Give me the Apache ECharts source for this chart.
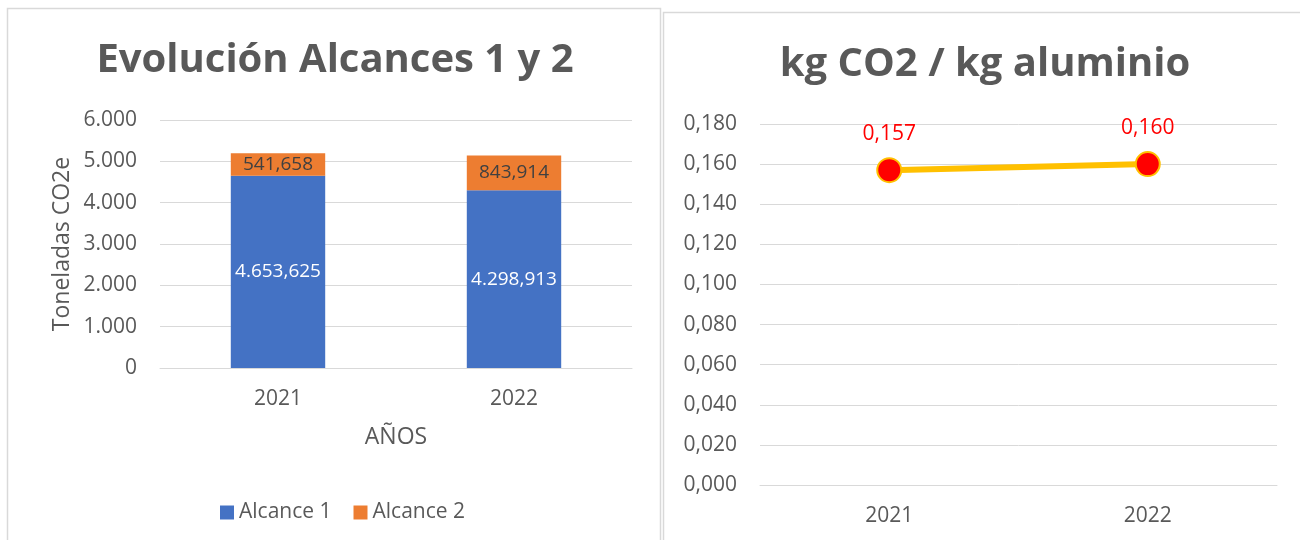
<!DOCTYPE html>
<html>
<head>
<meta charset="utf-8">
<script src="https://cdn.jsdelivr.net/npm/echarts@6/dist/echarts.min.js"></script>
<style>
html,body{margin:0;padding:0;background:#fff;}
#c{width:1300px;height:540px;}
</style>
</head>
<body>
<div id="c"></div>
<script>
var years = ['2021', '2022'];
var alcance1 = [4653.625, 4298.913];
var alcance2 = [541.658, 843.914];
var ratioYears = ['2021', '2022'];
var ratio = [0.157, 0.160];

var FONT = '"Open Sans", "Noto Sans", sans-serif';
var GREY = '#595959';

function fmtES(v, dec) {
  var s = v.toFixed(dec);
  var parts = s.split('.');
  var ip = parts[0].replace(/\B(?=(\d{3})+(?!\d))/g, '.');
  return parts.length > 1 ? ip + ',' + parts[1] : ip;
}

var chart = echarts.init(document.getElementById('c'), null, {renderer: 'canvas'});
chart.setOption({
  animation: false,
  backgroundColor: '#fff',
  textStyle: {fontFamily: FONT},
  graphic: [
    {type: 'rect', shape: {x: 7.5, y: 8.5, width: 653, height: 560}, style: {fill: 'none', stroke: '#d9d9d9', lineWidth: 1.5}, silent: true},
    {type: 'rect', shape: {x: 663.5, y: 12.5, width: 660, height: 560}, style: {fill: 'none', stroke: '#d9d9d9', lineWidth: 1.5}, silent: true}
  ],
  title: [
    {text: 'Evolución Alcances 1 y 2', left: 330, top: 36, textAlign: 'center',
     textStyle: {fontFamily: FONT, fontSize: 40, fontWeight: 'bold', color: GREY}},
    {text: 'kg CO2 / kg aluminio', left: 980, top: 40, textAlign: 'center',
     textStyle: {fontFamily: FONT, fontSize: 40, fontWeight: 'bold', color: GREY}}
  ],
  legend: {
    data: ['Alcance 1', 'Alcance 2'],
    left: 215, top: 497,
    itemWidth: 14, itemHeight: 14, itemGap: 22,
    icon: 'rect',
    textStyle: {fontFamily: FONT, fontSize: 21, color: GREY}
  },
  grid: [
    {left: 160, top: 120, width: 472, height: 248},
    {left: 760, top: 124, width: 517, height: 361}
  ],
  xAxis: [
    {type: 'category', gridIndex: 0, data: years,
     axisLine: {show: true, lineStyle: {color: '#d9d9d9'}}, axisTick: {show: false},
     axisLabel: {color: GREY, fontSize: 21, margin: 21, fontFamily: FONT},
     name: 'AÑOS', nameLocation: 'middle', nameGap: 58,
     nameTextStyle: {color: GREY, fontSize: 23, fontFamily: FONT}},
    {type: 'category', gridIndex: 1, data: ratioYears,
     axisLine: {show: true, lineStyle: {color: '#d9d9d9'}}, axisTick: {show: false},
     axisLabel: {color: GREY, fontSize: 21, margin: 21, fontFamily: FONT}}
  ],
  yAxis: [
    {type: 'value', gridIndex: 0, min: 0, max: 6000, interval: 1000,
     axisLine: {show: false}, axisTick: {show: false},
     splitLine: {lineStyle: {color: '#d9d9d9', width: 1}},
     axisLabel: {color: GREY, fontSize: 21, margin: 23, fontFamily: FONT,
       formatter: function (v) { return fmtES(v, 0); }},
     name: 'Toneladas CO2e', nameLocation: 'middle', nameGap: 86, nameRotate: 90,
     nameTextStyle: {color: GREY, fontSize: 23, fontFamily: FONT}},
    {type: 'value', gridIndex: 1, min: 0, max: 0.18, interval: 0.02,
     axisLine: {show: false}, axisTick: {show: false},
     splitLine: {lineStyle: {color: '#d9d9d9', width: 1}},
     axisLabel: {color: GREY, fontSize: 21, margin: 23, fontFamily: FONT,
       formatter: function (v) { return fmtES(v, 3); }}}
  ],
  series: [
    {name: 'Alcance 1', type: 'bar', stack: 'a', xAxisIndex: 0, yAxisIndex: 0,
     data: alcance1, barWidth: '40%',
     itemStyle: {color: '#4472C4'},
     label: {show: true, position: 'inside', color: '#fff', fontSize: 19, fontFamily: FONT,
       formatter: function (p) { return fmtES(p.value, 3); }}},
    {name: 'Alcance 2', type: 'bar', stack: 'a', xAxisIndex: 0, yAxisIndex: 0,
     data: alcance2, barWidth: '40%',
     itemStyle: {color: '#ED7D31'},
     label: {show: true, position: 'inside', color: '#404040', fontSize: 19, fontFamily: FONT,
       formatter: function (p) { return fmtES(p.value, 3); }}},
    {name: 'ratio', type: 'line', xAxisIndex: 1, yAxisIndex: 1,
     data: ratio,
     lineStyle: {color: '#FFC000', width: 6},
     symbol: 'circle', symbolSize: 24,
     itemStyle: {color: '#FF0000', borderColor: '#FFC000', borderWidth: 2},
     label: {show: true, position: 'top', distance: 13, color: '#FF0000', fontSize: 21, fontFamily: FONT,
       formatter: function (p) { return fmtES(p.value, 3); }}}
  ]
});
</script>
</body>
</html>
